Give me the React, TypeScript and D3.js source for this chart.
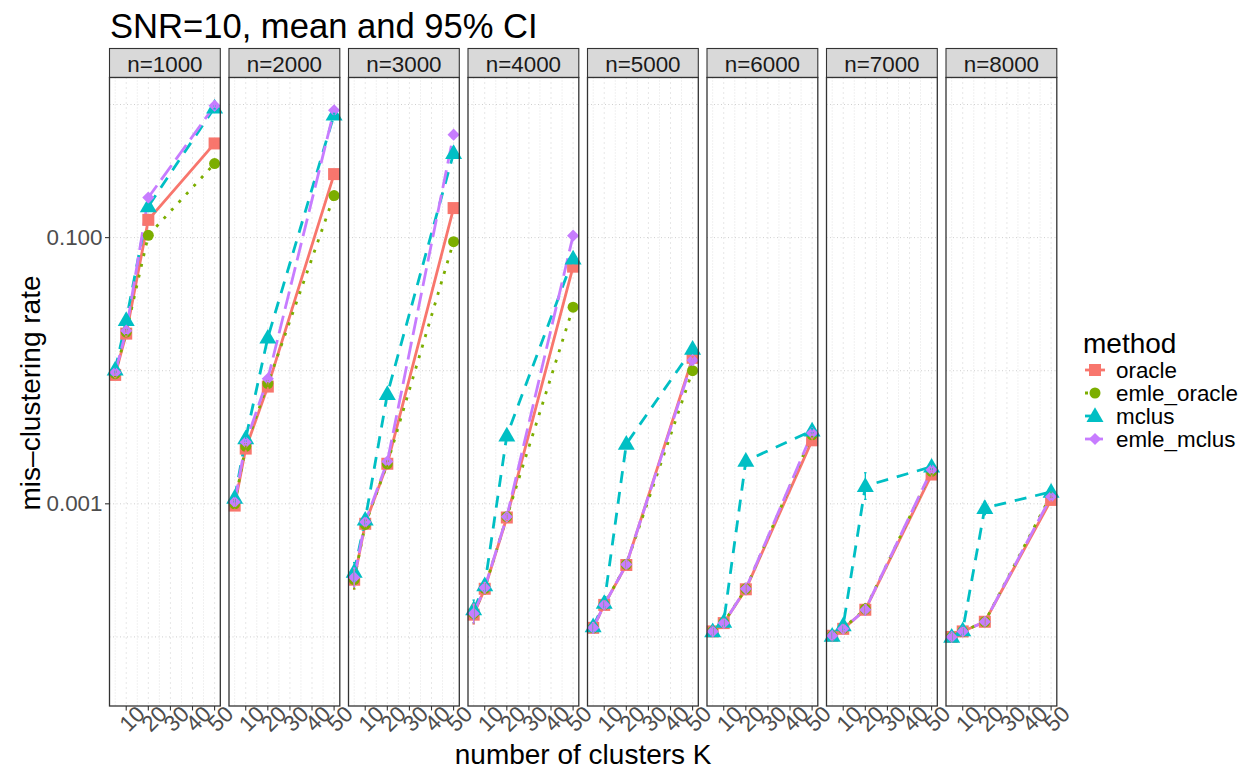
import * as d3 from "d3";

// facets, x values and methods
const panels = [1000, 2000, 3000, 4000, 5000, 6000, 7000, 8000];
const clusters = [5, 10, 20, 50];
const methods = ["oracle", "emle_oracle", "mclus", "emle_mclus"];
const xTicks = [10, 20, 30, 40, 50];
const xMinor = [5, 15, 25, 35, 45];
const yTicks = [0.1, 0.001];
const yTickLabels = ["0.100", "0.001"];
const yMinor = [1, 0.01, 0.0001];

// mean mis-clustering rate, one row per panel (K = 5, 10, 20, 50)
const oracle = [
  [0.0093, 0.019, 0.136, 0.51],
  [0.00097, 0.0026, 0.0076, 0.3],
  [0.000269, 0.000708, 0.002, 0.1667],
  [0.000147, 0.00023, 0.000789, 0.0605],
  [0.000117, 0.000174, 0.000347, 0.0125],
  [0.00011, 0.000127, 0.000228, 0.003],
  [0.000102, 0.000115, 0.00016, 0.00166],
  [0.0001, 0.00011, 0.00013, 0.00107],
];
const emleOracle = [
  [0.0095, 0.0195, 0.104, 0.36],
  [0.001, 0.0027, 0.008, 0.207],
  [0.00027, 0.0007, 0.002, 0.0933],
  [0.00015, 0.000232, 0.0008, 0.03],
  [0.000117, 0.000175, 0.00035, 0.01],
  [0.00011, 0.000128, 0.00023, 0.0033],
  [0.000102, 0.000116, 0.000162, 0.00175],
  [0.0001, 0.00011, 0.00013, 0.00117],
];
const mclus = [
  [0.0102, 0.024, 0.172, 0.95],
  [0.00111, 0.0031, 0.0177, 0.84],
  [0.000308, 0.00076, 0.00667, 0.432],
  [0.000161, 0.000244, 0.00326, 0.0695],
  [0.00012, 0.00018, 0.00282, 0.0146],
  [0.00011, 0.00013, 0.0021, 0.00355],
  [0.000102, 0.000122, 0.00136, 0.0019],
  [0.0001, 0.000112, 0.00093, 0.00123],
];
const emleMclus = [
  [0.0097, 0.02, 0.2, 0.98],
  [0.00103, 0.0029, 0.0087, 0.905],
  [0.00028, 0.00073, 0.00208, 0.594],
  [0.00015, 0.000234, 0.0008, 0.1035],
  [0.000117, 0.000174, 0.00035, 0.012],
  [0.00011, 0.000127, 0.00023, 0.0034],
  [0.000102, 0.000115, 0.00016, 0.0018],
  [0.0001, 0.00011, 0.00013, 0.00113],
];
// 95% CI half width in log10 units (shared rows for oracle-type, own for mclus)
const ciCommon = [
  [0.02, 0.02, 0.015, 0.01],
  [0.03, 0.02, 0.02, 0.01],
  [0.07, 0.03, 0.02, 0.01],
  [0.07, 0.04, 0.02, 0.01],
  [0.04, 0.03, 0.03, 0.01],
  [0.03, 0.03, 0.04, 0.015],
  [0.03, 0.03, 0.04, 0.02],
  [0.03, 0.03, 0.03, 0.02],
];
const ciMclus = [
  [0.02, 0.02, 0.015, 0.01],
  [0.03, 0.02, 0.02, 0.01],
  [0.07, 0.03, 0.02, 0.01],
  [0.07, 0.04, 0.02, 0.01],
  [0.04, 0.03, 0.03, 0.015],
  [0.03, 0.03, 0.04, 0.015],
  [0.03, 0.03, 0.1, 0.02],
  [0.03, 0.03, 0.05, 0.02],
];

const seriesValues = [oracle, emleOracle, mclus, emleMclus];
const seriesCi = [ciCommon, ciCommon, ciMclus, ciCommon];
const colors = ["#F8766D", "#7CAE00", "#00BFC4", "#C77CFF"];
const dashes = ["none", "3,8", "12,9", "18,7"];

const W = 1239;
const H = 770;
const left0 = 109.5;
const step = 119.5;
const panelW = 110.8;
const panelTop = 77.5;
const panelBottom = 706;
const stripTop = 48.5;
const font = "'Liberation Sans', Arial, Helvetica, sans-serif";

const y = d3
  .scaleLog()
  .domain([Math.pow(10, -4.519), Math.pow(10, 0.203)])
  .range([panelBottom, panelTop]);
const x = d3.scaleLinear().domain([2.43, 52.58]).range([0, panelW]);

const line = d3
  .line<[number, number]>()
  .x((d) => x(d[0]))
  .y((d) => y(d[1]));

function Marker({ m, cx, cy }: { m: number; cx: number; cy: number }) {
  const c = colors[m];
  if (m === 0) return <rect x={cx - 6} y={cy - 6} width={12} height={12} fill={c} />;
  if (m === 1) return <circle cx={cx} cy={cy} r={5.5} fill={c} />;
  if (m === 2) {
    const p = d3.symbol().type(d3.symbolTriangle).size(125)()!;
    return <path d={p} transform={`translate(${cx},${cy + 1})`} fill={c} />;
  }
  return <rect x={-4.3} y={-4.3} width={8.6} height={8.6} fill={c} transform={`translate(${cx},${cy}) rotate(45)`} />;
}

function Panel({ i }: { i: number }) {
  const left = left0 + i * step;
  return (
    <g>
      <rect x={left} y={stripTop} width={panelW} height={panelTop - stripTop} fill="#D9D9D9" stroke="#333333" strokeWidth={1.1} />
      <text x={left + panelW / 2} y={(stripTop + panelTop) / 2 + 1} textAnchor="middle" dominantBaseline="central" fontSize={22.4} fill="#1A1A1A">
        n={panels[i]}
      </text>
      <rect x={left} y={panelTop} width={panelW} height={panelBottom - panelTop} fill="white" />
      <g transform={`translate(${left},0)`}>
        {yMinor.concat(yTicks).map((v) => (
          <line key={"h" + v} x1={0} x2={panelW} y1={y(v)} y2={y(v)} stroke="#cfcfcf" strokeWidth={1} strokeDasharray="1,2.5" />
        ))}
        {xMinor.map((v) => (
          <line key={"vm" + v} x1={x(v)} x2={x(v)} y1={panelTop} y2={panelBottom} stroke="#e2e2e2" strokeWidth={1} strokeDasharray="1,2" />
        ))}
        {xTicks.map((v) => (
          <line key={"v" + v} x1={x(v)} x2={x(v)} y1={panelTop} y2={panelBottom} stroke="#cfcfcf" strokeWidth={1} strokeDasharray="1,4" />
        ))}
        {methods.map((_, m) => (
          <path
            key={"l" + m}
            d={line(clusters.map((k, j) => [k, seriesValues[m][i][j]] as [number, number]))!}
            fill="none"
            stroke={colors[m]}
            strokeWidth={2.8}
            strokeDasharray={dashes[m]}
          />
        ))}
        {methods.map((_, m) =>
          clusters.map((k, j) => <Marker key={"p" + m + j} m={m} cx={x(k)} cy={y(seriesValues[m][i][j])} />)
        )}
        {methods.map((_, m) =>
          clusters.map((k, j) => {
            const v = seriesValues[m][i][j];
            const h = Math.pow(10, seriesCi[m][i][j]);
            const x0 = x(k);
            return (
              <g key={"e" + m + j} stroke={colors[m]} strokeWidth={1.3}>
                <line x1={x0} x2={x0} y1={y(v * h)} y2={y(v / h)} />
                <line x1={x0 - 1.2} x2={x0 + 1.2} y1={y(v * h)} y2={y(v * h)} />
                <line x1={x0 - 1.2} x2={x0 + 1.2} y1={y(v / h)} y2={y(v / h)} />
              </g>
            );
          })
        )}
        {xTicks.map((v) => (
          <g key={"t" + v}>
            <line x1={x(v)} x2={x(v)} y1={panelBottom} y2={panelBottom + 4.5} stroke="#333333" strokeWidth={1.1} />
            <text
              transform={`translate(${x(v) + 6},${panelBottom + 13}) rotate(-45)`}
              textAnchor="middle"
              dominantBaseline="central"
              fontSize={22.4}
              fill="#4D4D4D"
            >
              {v}
            </text>
          </g>
        ))}
      </g>
      <rect x={left} y={panelTop} width={panelW} height={panelBottom - panelTop} fill="none" stroke="#333333" strokeWidth={1.3} />
    </g>
  );
}

export default function App() {
  return (
    <svg width={W} height={H} style={{ position: "absolute", left: 0, top: 0, background: "white" }} fontFamily={font}>
      <rect width={W} height={H} fill="white" />
      <text x={110} y={38} fontSize={34.6} fill="black">
        SNR=10, mean and 95% CI
      </text>
      {panels.map((_, i) => (
        <Panel key={i} i={i} />
      ))}
      {yTicks.map((v, i) => (
        <g key={v}>
          <line x1={left0 - 4.5} x2={left0} y1={y(v)} y2={y(v)} stroke="#333333" strokeWidth={1.1} />
          <text x={left0 - 7} y={y(v)} textAnchor="end" dominantBaseline="central" fontSize={22.4} fill="#4D4D4D">
            {yTickLabels[i]}
          </text>
        </g>
      ))}
      <text transform={`translate(40,393) rotate(-90)`} textAnchor="middle" fontSize={28} fill="black">
        mis–clustering rate
      </text>
      <text x={left0 + (7 * step + panelW) / 2} y={764} textAnchor="middle" fontSize={28} fill="black">
        number of clusters K
      </text>
      <text x={1083} y={353} fontSize={28} fill="black">
        method
      </text>
      {methods.map((name, m) => {
        const cy = 370 + m * 23;
        return (
          <g key={name}>
            <line x1={1085} x2={1105} y1={cy} y2={cy} stroke={colors[m]} strokeWidth={2.8} strokeDasharray={dashes[m]} />
            <Marker m={m} cx={1095} cy={cy} />
            <text x={1116} y={cy} dominantBaseline="central" fontSize={22.4} fill="black">
              {name}
            </text>
          </g>
        );
      })}
    </svg>
  );
}
